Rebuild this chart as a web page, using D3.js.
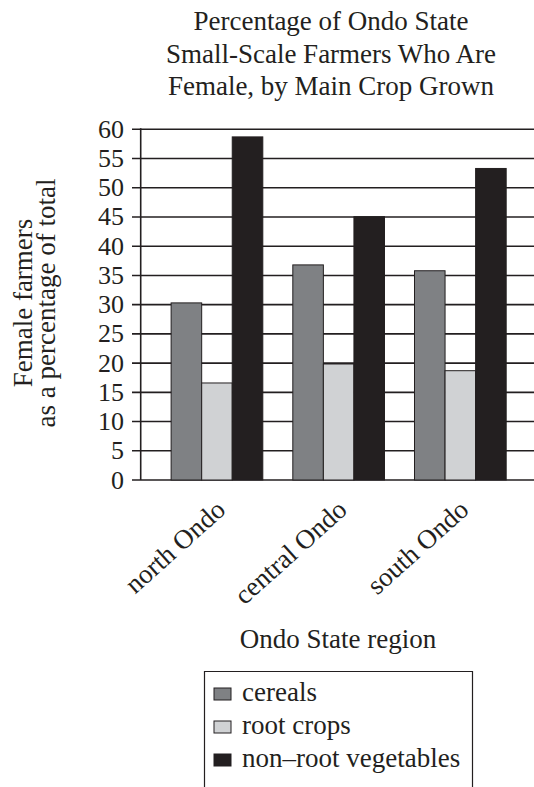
<!DOCTYPE html>
<html><head><meta charset="utf-8">
<script src="https://cdn.jsdelivr.net/npm/d3@7"></script>
<style>body{margin:0;background:#fff}svg{display:block}text{font-family:"Liberation Serif","DejaVu Serif",serif;fill:#231f20}</style>
</head><body>
<script>
const regions = ["north Ondo", "central Ondo", "south Ondo"];
const seriesNames = ["cereals", "root crops", "non\u2013root vegetables"];
const cereals = [30.3, 36.8, 35.8];
const rootCrops = [16.6, 19.85, 18.7];
const nonRootVegetables = [58.7, 45.05, 53.3];
const yTicks = [0,5,10,15,20,25,30,35,40,45,50,55,60];
const colors = ["#7f8184", "#d0d2d4", "#231f20"];
const titleLines = ["Percentage of Ondo State", "Small-Scale Farmers Who Are", "Female, by Main Crop Grown"];
const yLabelLines = ["Female farmers", "as a percentage of total"];

const W = 534, H = 787;
const svg = d3.select("body").append("svg").attr("width", W).attr("height", H);
const x0 = 140.7, xEnd = 536.6, yTop = 129.3, yBot = 480;
const x = d3.scaleBand().domain(regions).range([x0, xEnd]).paddingInner(0.2466).paddingOuter(0.25);
const xs = d3.scaleBand().domain(d3.range(3)).range([0, x.bandwidth()]);
const y = d3.scaleLinear().domain([0, 60]).range([yBot, yTop]);
const series = [cereals, rootCrops, nonRootVegetables];

// title
svg.append("g").selectAll("text").data(titleLines).join("text")
  .attr("x", 331).attr("y", (d,i) => 30 + i*32.5)
  .attr("text-anchor", "middle").attr("font-size", 27).text(d => d);

// gridlines
svg.append("g").selectAll("line").data(yTicks).join("line")
  .attr("x1", 132).attr("x2", W).attr("y1", d => y(d)).attr("y2", d => y(d))
  .attr("stroke", "#231f20").attr("stroke-width", 1.6);
// y axis line
svg.append("line").attr("x1", x0).attr("x2", x0).attr("y1", yTop - 1).attr("y2", yBot)
  .attr("stroke", "#231f20").attr("stroke-width", 1.6);
// tick labels
svg.append("g").selectAll("text").data(yTicks).join("text")
  .attr("x", 124).attr("y", d => y(d) + 8.5).attr("text-anchor", "end")
  .attr("font-size", 26).text(d => d);

// bars
const groups = svg.append("g").selectAll("g").data(regions).join("g")
  .attr("transform", d => `translate(${x(d)},0)`);
groups.selectAll("rect").data((d, i) => series.map((s, k) => ({k, v: s[i]}))).join("rect")
  .attr("x", d => xs(d.k)).attr("width", xs.bandwidth())
  .attr("y", d => y(d.v)).attr("height", d => y(0) - y(d.v))
  .attr("fill", d => colors[d.k]).attr("stroke", "#231f20").attr("stroke-width", 1);

// x tick labels
svg.append("g").selectAll("text").data(regions).join("text")
  .attr("transform", d => `translate(${x(d) + x.bandwidth()/2 + 10},512) rotate(-42)`)
  .attr("text-anchor", "end").attr("font-size", 27).text(d => d);

// x title
svg.append("text").attr("x", 338).attr("y", 648).attr("text-anchor", "middle")
  .attr("font-size", 27).text("Ondo State region");

// y title
svg.append("g").selectAll("text").data(yLabelLines).join("text")
  .attr("transform", (d,i) => `translate(${32 + i*23},303) rotate(-90)`)
  .attr("text-anchor", "middle").attr("font-size", 27).text(d => d);

// legend
const lg = svg.append("g");
lg.append("path").attr("d", `M204.5,${H+2}V671.5H472.5V${H+2}`).attr("fill", "none")
  .attr("stroke", "#231f20").attr("stroke-width", 1.2);
const items = lg.selectAll("g").data(seriesNames).join("g")
  .attr("transform", (d,i) => `translate(214,${688 + i*33})`);
items.append("rect").attr("width", 17).attr("height", 12)
  .attr("fill", (d,i) => colors[i]).attr("stroke", "#231f20").attr("stroke-width", 1);
items.append("text").attr("x", 28).attr("y", 13).attr("font-size", 27).text(d => d);
</script>
</body></html>
